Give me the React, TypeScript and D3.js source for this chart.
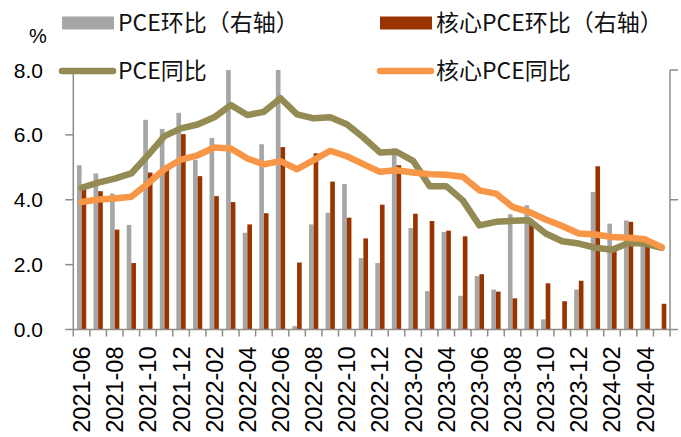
import React, { useRef, useEffect } from 'react';
import * as d3 from 'd3';

const width = 681;
const height = 437;

// months 2021-06 .. 2024-05
const months = [
  '2021-06', '2021-07', '2021-08', '2021-09', '2021-10', '2021-11', '2021-12',
  '2022-01', '2022-02', '2022-03', '2022-04', '2022-05', '2022-06', '2022-07', '2022-08', '2022-09', '2022-10', '2022-11', '2022-12',
  '2023-01', '2023-02', '2023-03', '2023-04', '2023-05', '2023-06', '2023-07', '2023-08', '2023-09', '2023-10', '2023-11', '2023-12',
  '2024-01', '2024-02', '2024-03', '2024-04', '2024-05'
];

// PCE环比 (right axis)
const pceMom = [
  0.633, 0.601, 0.524, 0.403, 0.808, 0.773, 0.835, 0.654, 0.738, 1.0, 0.373, 0.714,
  1.0, 0.013, 0.405, 0.45, 0.561, 0.275, 0.256, 0.698, 0.391, 0.148, 0.376, 0.13,
  0.206, 0.154, 0.444, 0.479, 0.039, -0.01, 0.154, 0.53, 0.408, 0.42, 0.331, 0.0
];

// 核心PCE环比 (right axis)
const corePceMom = [
  0.556, 0.533, 0.385, 0.256, 0.605, 0.633, 0.753, 0.591, 0.514, 0.491, 0.405, 0.448,
  0.703, 0.258, 0.679, 0.57, 0.431, 0.351, 0.481, 0.633, 0.446, 0.418, 0.381, 0.359,
  0.213, 0.146, 0.12, 0.408, 0.178, 0.109, 0.188, 0.629, 0.305, 0.415, 0.318, 0.099
];

// PCE同比
const pceYoy = [
  4.37, 4.53, 4.65, 4.81, 5.37, 5.96, 6.2, 6.32, 6.54, 6.92, 6.61, 6.71,
  7.13, 6.63, 6.51, 6.54, 6.33, 5.92, 5.46, 5.48, 5.2, 4.42, 4.42, 3.98,
  3.21, 3.32, 3.35, 3.37, 2.96, 2.72, 2.65, 2.52, 2.46, 2.67, 2.65, 2.52
];

// 核心PCE同比
const corePceYoy = [
  3.93, 4.01, 4.04, 4.09, 4.5, 4.94, 5.24, 5.37, 5.61, 5.58, 5.27, 5.09,
  5.19, 4.94, 5.22, 5.51, 5.34, 5.1, 4.86, 4.91, 4.84, 4.79, 4.77, 4.71,
  4.29, 4.19, 3.78, 3.62, 3.39, 3.19, 2.96, 2.93, 2.85, 2.83, 2.78, 2.54
];

const leftTicks = [0, 2, 4, 6, 8];
const rightTicks = [0, 0.5, 1];

const GRAY = '#a6a6a6';
const RUST = '#993300';
const OLIVE = '#948a54';
const ORANGE = '#f79646';
const AXIS = '#8c8c8c';
const CJK = '"Noto Sans CJK SC", "Noto Sans", sans-serif';

export default function App() {
  const ref = useRef<SVGSVGElement>(null);

  useEffect(() => {
    const svg = d3.select(ref.current);
    svg.selectAll('*').remove();

    const margin = { top: 70, right: 11, bottom: 107.5, left: 73.3 };
    const x = d3.scaleBand<string>()
      .domain(months)
      .range([margin.left, width - margin.right])
      .padding(0);
    const yL = d3.scaleLinear().domain([0, 8]).range([height - margin.bottom, margin.top]);
    const yR = d3.scaleLinear().domain([0, 1]).range([height - margin.bottom, margin.top]);
    const bw = x.bandwidth() * 0.28;
    const cx = (m: string) => (x(m) as number) + x.bandwidth() / 2;

    // clip for the plot area
    svg.append('defs').append('clipPath').attr('id', 'plotclip')
      .append('rect')
      .attr('x', margin.left).attr('y', margin.top)
      .attr('width', width - margin.left - margin.right)
      .attr('height', height - margin.top - margin.bottom);

    // bars
    const bars = svg.append('g').attr('clip-path', 'url(#plotclip)');
    bars.selectAll('rect.pce')
      .data(pceMom)
      .enter()
      .append('rect')
      .attr('class', 'pce')
      .attr('x', (d, i) => cx(months[i]) - bw)
      .attr('y', d => yR(Math.max(0, d)))
      .attr('width', bw)
      .attr('height', d => Math.abs(yR(d) - yR(0)))
      .attr('fill', GRAY);
    bars.selectAll('rect.core')
      .data(corePceMom)
      .enter()
      .append('rect')
      .attr('class', 'core')
      .attr('x', (d, i) => cx(months[i]))
      .attr('y', d => yR(Math.max(0, d)))
      .attr('width', bw)
      .attr('height', d => Math.abs(yR(d) - yR(0)))
      .attr('fill', RUST);

    // axes
    const axisG = svg.append('g').attr('stroke', AXIS).attr('stroke-width', 1.5);
    axisG.append('line')
      .attr('x1', margin.left).attr('x2', margin.left)
      .attr('y1', yL(8)).attr('y2', yL(0));
    axisG.selectAll('line.lt')
      .data(leftTicks)
      .enter()
      .append('line')
      .attr('x1', margin.left - 8).attr('x2', margin.left)
      .attr('y1', d => yL(d)).attr('y2', d => yL(d));
    axisG.append('line')
      .attr('x1', width - margin.right).attr('x2', width - margin.right)
      .attr('y1', yR(1)).attr('y2', yR(0));
    axisG.selectAll('line.rt')
      .data(rightTicks)
      .enter()
      .append('line')
      .attr('x1', width - margin.right).attr('x2', width - margin.right + 8)
      .attr('y1', d => yR(d)).attr('y2', d => yR(d));
    axisG.append('line')
      .attr('x1', margin.left).attr('x2', width - margin.right)
      .attr('y1', yL(0)).attr('y2', yL(0));
    axisG.selectAll('line.xt')
      .data(months.concat(['end']))
      .enter()
      .append('line')
      .attr('x1', (d, i) => margin.left + i * x.bandwidth())
      .attr('x2', (d, i) => margin.left + i * x.bandwidth())
      .attr('y1', yL(0)).attr('y2', yL(0) + 7);

    svg.selectAll('text.yl')
      .data(leftTicks)
      .enter()
      .append('text')
      .attr('x', 43)
      .attr('y', d => yL(d))
      .attr('dy', '0.36em')
      .attr('text-anchor', 'end')
      .attr('font-family', '"Liberation Sans", Arial, sans-serif')
      .attr('font-size', 21)
      .attr('fill', '#000')
      .text(d => d3.format('.1f')(d));

    svg.selectAll('text.xl')
      .data(months.filter((m, i) => i % 2 === 0))
      .enter()
      .append('text')
      .attr('transform', d => 'translate(' + cx(d) + ',' + (yL(0) + 17) + ') rotate(-90)')
      .attr('dy', '0.36em')
      .attr('text-anchor', 'end')
      .attr('font-family', '"Liberation Sans", Arial, sans-serif')
      .attr('font-size', 23.5)
      .attr('fill', '#000')
      .text(d => d);

    // lines
    const lineGen = d3.line<number>()
      .x((d, i) => cx(months[i]))
      .y(d => yL(d));
    svg.append('path')
      .datum(pceYoy)
      .attr('fill', 'none')
      .attr('stroke', OLIVE)
      .attr('stroke-width', 6.5)
      .attr('stroke-linejoin', 'round')
      .attr('stroke-linecap', 'round')
      .attr('d', lineGen);
    svg.append('path')
      .datum(corePceYoy)
      .attr('fill', 'none')
      .attr('stroke', ORANGE)
      .attr('stroke-width', 6.5)
      .attr('stroke-linejoin', 'round')
      .attr('stroke-linecap', 'round')
      .attr('d', lineGen);

    // unit
    svg.append('text')
      .attr('x', 29).attr('y', 36).attr('dy', '0.36em')
      .attr('font-family', '"Liberation Sans", Arial, sans-serif')
      .attr('font-size', 20)
      .text('%');

    // legend
    const legend = [
      { label: 'PCE环比（右轴）', type: 'rect', color: GRAY, x: 62, y: 23 },
      { label: '核心PCE环比（右轴）', type: 'rect', color: RUST, x: 380, y: 23 },
      { label: 'PCE同比', type: 'line', color: OLIVE, x: 62, y: 71 },
      { label: '核心PCE同比', type: 'line', color: ORANGE, x: 380, y: 71 }
    ];
    const lg = svg.append('g');
    legend.forEach(l => {
      if (l.type === 'rect') {
        lg.append('rect')
          .attr('x', l.x).attr('y', l.y - 6.5)
          .attr('width', 52).attr('height', 13)
          .attr('fill', l.color);
      } else {
        lg.append('line')
          .attr('x1', l.x).attr('x2', l.x + 51)
          .attr('y1', l.y).attr('y2', l.y)
          .attr('stroke', l.color)
          .attr('stroke-width', 6.5)
          .attr('stroke-linecap', 'round');
      }
      lg.append('text')
        .attr('x', l.x + 56).attr('y', l.y)
        .attr('dy', '0.36em')
        .attr('font-family', CJK)
        .attr('font-size', 23)
        .attr('fill', '#111')
        .text(l.label);
    });
  }, []);

  return (
    <svg
      ref={ref}
      width={width}
      height={height}
      style={{ position: 'absolute', left: 0, top: 0, background: '#fff' }}
    />
  );
}
